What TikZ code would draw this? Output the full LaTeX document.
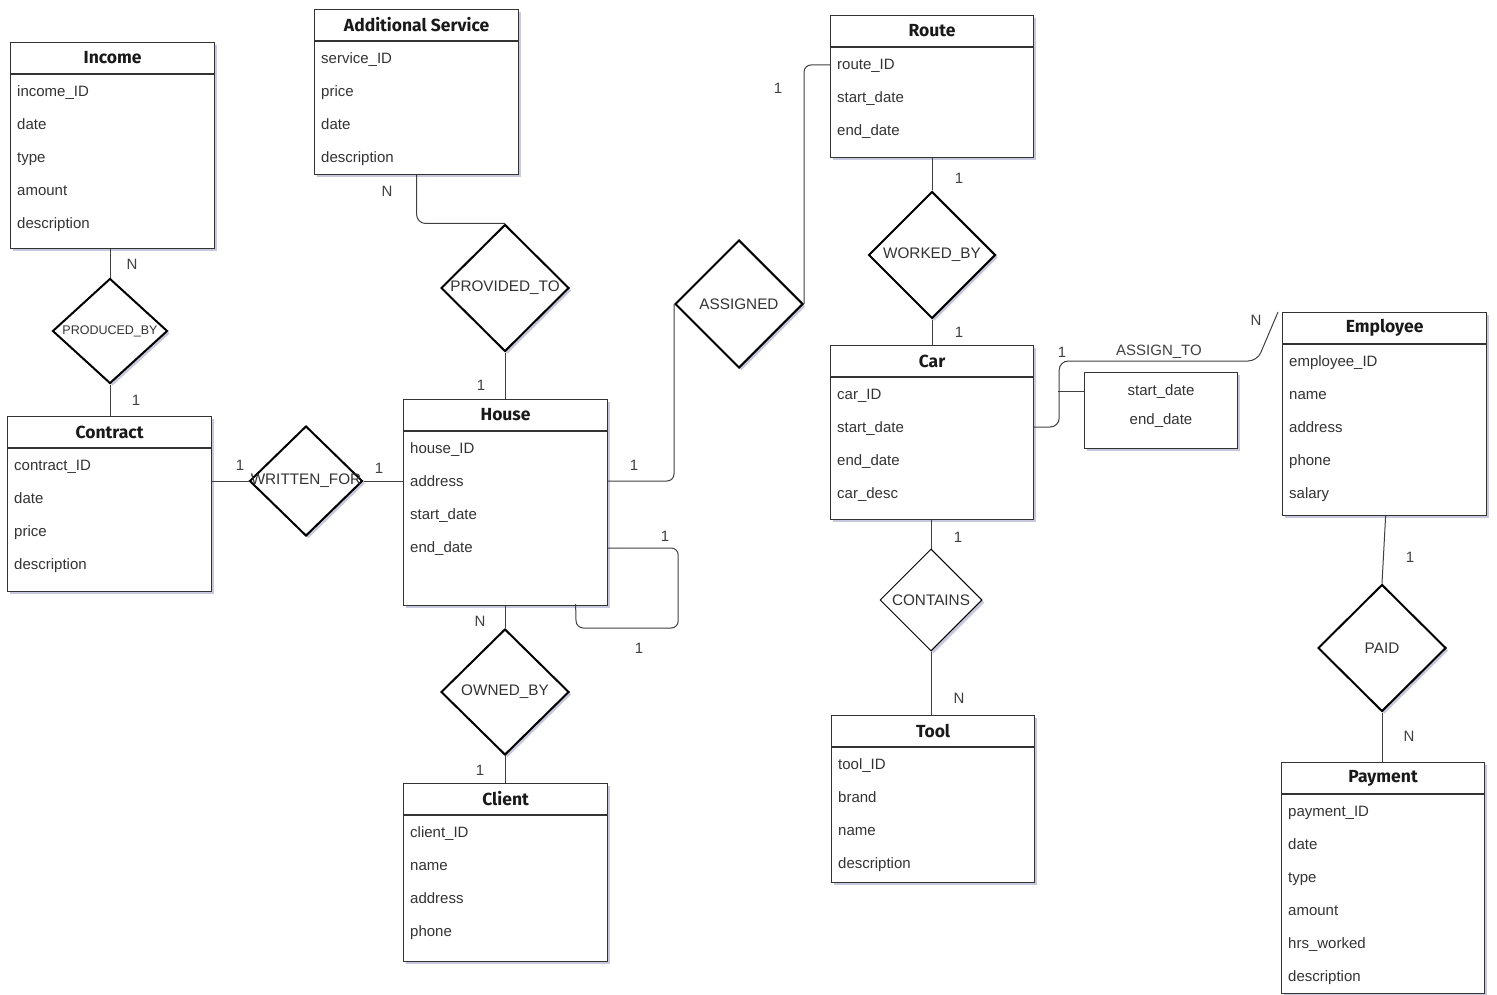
\documentclass[tikz,border=0pt]{standalone}
\usepackage{fontspec}
\setmainfont{Liberation Sans}
\newfontfamily\ttlfont{Fira Sans}
\usetikzlibrary{shapes.geometric,shadows}
\newcommand{\erEntity}[6]{%
  \node[ent, minimum width=#4pt, minimum height=#5pt] (#1) at (#2,#3) {};
  \draw[hdr] ([yshift=-32pt]#1.north west) -- ([yshift=-32pt]#1.north east);
  \node[ttl] (#1-t) at ([yshift=-16pt]#1.north) {#6};
}
\newcommand{\erAttrs}[2]{%
  \foreach \a [count=\i] in {#2}
    \node[attr] (#1-a\i) at ([xshift=7pt,yshift={-54.5pt-(\i-1)*33pt}]#1.north west) {\a};
}
\begin{document}
\begin{tikzpicture}[x=1pt,y=-1pt,
  shadowed/.style={drop shadow={shadow xshift=2.5pt, shadow yshift=-2.5pt, opacity=0.35, fill=blue!25!gray}},
  ent/.style={draw=black!80, line width=1.2pt, fill=white, rectangle, inner sep=0pt, anchor=north west, shadowed},
  hdr/.style={draw=black!80, line width=1.2pt},
  rel/.style={diamond, draw=black, line width=2pt, fill=white, inner sep=0pt, shadowed},
  relthin/.style={rel, line width=1pt},
  conn/.style={draw=black!75, line width=1pt, rounded corners=7pt},
  attr/.style={font=\fontsize{15}{17}\selectfont, text=black!80, anchor=base west, inner sep=0pt},
  ttl/.style={font=\ttlfont\bfseries\fontsize{17.5}{20}\selectfont, text=black!90, inner sep=0pt},
  card/.style={font=\fontsize{15}{17}\selectfont, text=black!75, inner sep=0pt},
  rlab/.style={font=\fontsize{15.3}{17}\selectfont, text=black!80, inner sep=0pt}
]
\fill[white] (0,0) rectangle (1497,995);
\useasboundingbox (0,0) rectangle (1497,995);

% entities
\erEntity{income}{10}{42}{204}{206}{Income}
\erAttrs{income}{income\_ID,date,type,amount,description}
\erEntity{addserv}{314}{9}{204}{165}{Additional Service}
\erAttrs{addserv}{service\_ID,price,date,description}
\erEntity{route}{830}{15}{203}{142}{Route}
\erAttrs{route}{route\_ID,start\_date,end\_date}
\erEntity{car}{830}{345}{203}{174}{Car}
\erAttrs{car}{car\_ID,start\_date,end\_date,car\_desc}
\erEntity{employee}{1282}{312}{204}{203}{Employee}
\erAttrs{employee}{employee\_ID,name,address,phone,salary}
\erEntity{contract}{7}{416}{204}{175}{Contract}
\erAttrs{contract}{contract\_ID,date,price,description}
\erEntity{house}{403}{399}{204}{206}{House}
\erAttrs{house}{house\_ID,address,start\_date,end\_date}
\erEntity{client}{403}{783}{204}{178}{Client}
\erAttrs{client}{client\_ID,name,address,phone}
\erEntity{tool}{831}{715}{203}{167}{Tool}
\erAttrs{tool}{tool\_ID,brand,name,description}
\erEntity{payment}{1281}{762}{203}{231}{Payment}
\erAttrs{payment}{payment\_ID,date,type,amount,hrs\_worked,description}

% relationship attribute box
\node[ent, minimum width=153pt, minimum height=76pt] (rattr) at (1084,372) {};
\node[attr, anchor=base] (rattr-a1) at (1161,395.5) {start\_date};
\node[attr, anchor=base] (rattr-a2) at (1161,424.5) {end\_date};

% relationships
\node[rel, minimum width=115pt, minimum height=105pt,
  label={[rlab, font=\fontsize{12.5}{14}\selectfont]center:PRODUCED\_BY}] (produced) at (110,331) {};
\node[rel, minimum width=128pt, minimum height=127pt,
  label={[rlab]center:PROVIDED\_TO}] (provided) at (505,288) {};
\node[rel, minimum width=128pt, minimum height=128pt,
  label={[rlab]center:ASSIGNED}] (assigned) at (739,304) {};
\node[rel, minimum width=127pt, minimum height=127pt,
  label={[rlab]center:WORKED\_BY}] (worked) at (932,255) {};
\node[rel, minimum width=113pt, minimum height=110pt,
  label={[rlab]center:WRITTEN\_FOR}] (written) at (306,481) {};
\node[rel, minimum width=128pt, minimum height=126pt,
  label={[rlab]center:OWNED\_BY}] (owned) at (505,692) {};
\node[relthin, minimum width=102pt, minimum height=102pt,
  label={[rlab]center:CONTAINS}] (contains) at (931,600) {};
\node[rel, minimum width=128pt, minimum height=127pt,
  label={[rlab]center:PAID}] (paid) at (1382,648) {};

% connectors
\draw[conn] (produced.north |- income.south) -- (produced.north);
\draw[conn] (produced.south) -- (produced.south |- contract.north);
\draw[conn, rounded corners=9pt] (addserv.south) |- (provided.north);
\draw[conn] (provided.south) -- (provided.south |- house.north);
\draw[conn] (written.west -| contract.east) -- (written.west);
\draw[conn] (written.east) -- (written.east -| house.west);
\draw[conn] ([yshift=-82pt]house.north east) -| (assigned.west);
\draw[conn] (assigned.east) |- ([yshift=-50pt]route.north west);
\draw[conn] (worked.north |- route.south) -- (worked.north);
\draw[conn] (worked.south) -- (worked.south |- car.north);
\draw[conn] ([yshift=-149pt]house.north east) -- ++(70,0) -- ++(0,80) -- ++(-102,0) -- ([xshift=70pt,yshift=2pt]house.south);
\draw[conn] (owned.north |- house.south) -- (owned.north);
\draw[conn] (owned.south) -- (owned.south |- client.north);
\draw[conn] (contains.north |- car.south) -- (contains.north);
\draw[conn] (contains.south) -- (contains.south |- tool.north);
\draw[conn] ([xshift=1pt]employee.south) -- (paid.north);
\draw[conn] (paid.south) -- (paid.south |- payment.north);
\draw[conn, rounded corners=9pt] ([yshift=-82pt]car.north east) -- ++(25,0) -- ++(0,-66) -- ++(198,0) -- ([xshift=-4pt]employee.north west);
\coordinate (assignjoin) at ([xshift=-26pt,yshift=-19pt]rattr.north west);
\draw[conn] (assignjoin) -- ([yshift=-19pt]rattr.north west);

% cardinalities
\node[card] (c1) at (132,264) {N};
\node[card] (c2) at (136,400) {1};
\node[card] (c3) at (387,191) {N};
\node[card] (c4) at (481,385) {1};
\node[card] (c5) at (240,465) {1};
\node[card] (c6) at (379,468) {1};
\node[card] (c7) at (634,465) {1};
\node[card] (c8) at (778,88) {1};
\node[card] (c9) at (959,178) {1};
\node[card] (c10) at (959,332) {1};
\node[card] (c11) at (665,536) {1};
\node[card] (c12) at (639,648) {1};
\node[card] (c13) at (480,621) {N};
\node[card] (c14) at (480,770) {1};
\node[card] (c15) at (958,537) {1};
\node[card] (c16) at (959,698) {N};
\node[card] (c17) at (1410,557) {1};
\node[card] (c18) at (1409,736) {N};
\node[card] (c19) at (1062,352) {1};
\node[card] (c20) at (1256,320) {N};
\node[card] (assignto) at (1159,352) {ASSIGN\_TO};
\end{tikzpicture}
\end{document}
